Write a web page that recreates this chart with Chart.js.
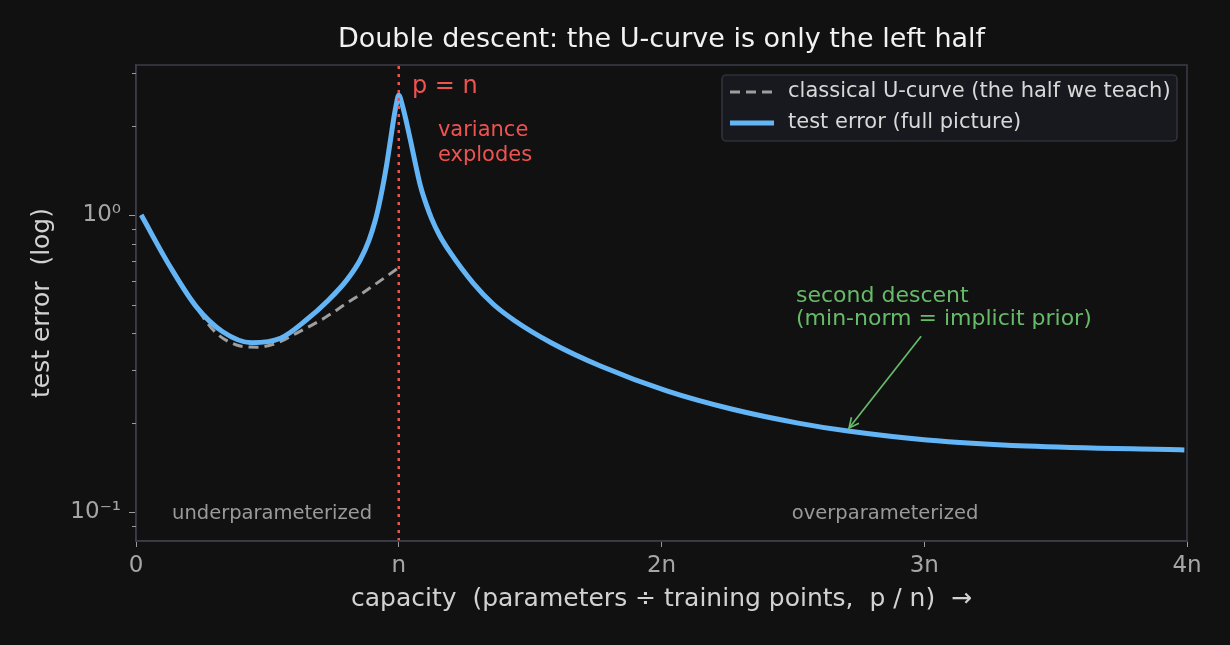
<!DOCTYPE html>
<html><head><meta charset="utf-8">
<script src="https://cdn.jsdelivr.net/npm/chart.js@4.4.1/dist/chart.umd.min.js"></script>
<style>html,body{margin:0;padding:0;background:#111111;}#wrap{width:1230px;height:645px;}</style>
</head><body><div id="wrap"><canvas id="c" width="1230" height="645"></canvas></div>
<script>
// ---- data ----
const testErrX = [0.02,0.13,0.23,0.33,0.44,0.55,0.65,0.732,0.802,0.853,0.887,0.910,0.925,0.940,0.955,0.968,0.980,0.990,1.0,1.015,1.03,1.045,1.06,1.082,1.105,1.125,1.155,1.195,1.284,1.36,1.44,1.58,1.77,2.02,2.27,2.52,2.71,3.01,3.39,3.99];
const testErrY = [1.00,0.670,0.491,0.405,0.372,0.385,0.445,0.517,0.604,0.706,0.824,0.955,1.084,1.259,1.496,1.778,2.089,2.344,2.53,2.317,2.042,1.778,1.538,1.259,1.084,0.973,0.855,0.750,0.589,0.501,0.442,0.372,0.310,0.256,0.222,0.1995,0.1875,0.175,0.167,0.162];
const uCurveX = [0.02,0.13,0.23,0.30,0.38,0.46,0.54,0.61,0.72,0.80,0.86,1.0];
const uCurveY = [1.00,0.670,0.488,0.405,0.366,0.359,0.372,0.400,0.452,0.504,0.545,0.665];
const xTickLabels = ['0','n','2n','3n','4n'];
const yMajorTicks = [0.1, 1];
const yMajorLabels = ['10\u207B\u00B9','10\u2070'];
const yMinorTicks = [0.09,0.2,0.3,0.4,0.5,0.6,0.7,0.8,0.9,2,3];
const seriesNames = ['classical U-curve (the half we teach)','test error (full picture)'];

const FONT = "'DejaVu Sans', sans-serif";
const BLUE = '#64b5f6', GRAY = '#9e9e9e', RED = '#ef5350', GREEN = '#66bb6a';
const FRAME = '#3c3c4a';

const toPts = (xs, ys) => xs.map((x, i) => ({x, y: ys[i]}));

const decor = {
  id: 'decor',
  beforeDraw(chart) {
    const {ctx} = chart;
    ctx.save();
    ctx.fillStyle = '#111111';
    ctx.fillRect(0, 0, chart.width, chart.height);
    ctx.restore();
  },
  afterDraw(chart) {
    const {ctx, chartArea: a} = chart;
    const xs = chart.scales.x, ys = chart.scales.y;
    const px = v => xs.getPixelForValue(v), py = v => ys.getPixelForValue(v);
    ctx.save();
    // frame
    ctx.strokeStyle = FRAME; ctx.lineWidth = 1.5;
    ctx.strokeRect(a.left, a.top, a.right - a.left, a.bottom - a.top);
    // minor y ticks
    ctx.strokeStyle = '#9a9a9a'; ctx.lineWidth = 1;
    yMinorTicks.forEach(v => {
      const y = Math.round(py(v)) + 0.5;
      ctx.beginPath(); ctx.moveTo(a.left - 4, y); ctx.lineTo(a.left, y); ctx.stroke();
    });
    // title
    ctx.fillStyle = '#f2f2f2';
    ctx.font = `27px ${FONT}`;
    ctx.textAlign = 'center'; ctx.textBaseline = 'middle';
    ctx.fillText('Double descent: the U-curve is only the left half', (a.left + a.right) / 2, 40);
    // annotations
    ctx.textAlign = 'left';
    ctx.fillStyle = RED;
    ctx.font = `24px ${FONT}`;
    ctx.fillText('p = n', px(1.05), py(2.70));
    ctx.font = `21px ${FONT}`;
    ctx.fillText('variance', px(1.149), py(1.92));
    ctx.fillText('explodes', px(1.149), py(1.59));
    ctx.fillStyle = GREEN;
    ctx.font = `22px ${FONT}`;
    ctx.fillText('second descent', px(2.512), py(0.534));
    ctx.fillText('(min-norm = implicit prior)', px(2.512), py(0.446));
    // arrow
    const x0 = px(2.988), y0 = py(0.391), x1 = px(2.714), y1 = py(0.192);
    ctx.strokeStyle = GREEN; ctx.lineWidth = 1.7;
    ctx.beginPath(); ctx.moveTo(x0, y0); ctx.lineTo(x1, y1); ctx.stroke();
    const ang = Math.atan2(y1 - y0, x1 - x0), hl = 11;
    ctx.beginPath();
    ctx.moveTo(x1 - hl * Math.cos(ang - 0.45), y1 - hl * Math.sin(ang - 0.45));
    ctx.lineTo(x1, y1);
    ctx.lineTo(x1 - hl * Math.cos(ang + 0.45), y1 - hl * Math.sin(ang + 0.45));
    ctx.stroke();
    // region labels
    ctx.fillStyle = '#9a9a9a';
    ctx.font = `19.5px ${FONT}`;
    ctx.textAlign = 'center';
    ctx.fillText('underparameterized', px(0.518), py(0.0985));
    ctx.fillText('overparameterized', px(2.851), py(0.0985));
    // legend
    const lx = 722, ly = 75, lw = 455, lh = 66;
    ctx.fillStyle = '#18181f';
    ctx.strokeStyle = '#3c3c4a'; ctx.lineWidth = 1.2;
    ctx.beginPath();
    ctx.roundRect(lx, ly, lw, lh, 4);
    ctx.fill(); ctx.stroke();
    const ds = chart.data.datasets;
    const rows = [ly + 17, ly + 48];
    [0, 1].forEach(i => {
      const d = ds[i];
      ctx.strokeStyle = d.borderColor; ctx.lineWidth = d.borderWidth;
      ctx.setLineDash(d.borderDash || []);
      ctx.beginPath(); ctx.moveTo(lx + 8, rows[i]); ctx.lineTo(lx + 52, rows[i]); ctx.stroke();
      ctx.setLineDash([]);
      ctx.fillStyle = '#d8d8d8';
      ctx.font = `21px ${FONT}`;
      ctx.textAlign = 'left'; ctx.textBaseline = 'middle';
      ctx.fillText(d.label, lx + 66, rows[i]);
    });
    ctx.restore();
  }
};

new Chart(document.getElementById('c'), {
  type: 'line',
  data: {
    datasets: [
      { label: seriesNames[0], data: toPts(uCurveX, uCurveY), borderColor: GRAY, borderWidth: 3,
        borderDash: [10, 6], pointRadius: 0, cubicInterpolationMode: 'monotone', order: 2, fill: false },
      { label: seriesNames[1], data: toPts(testErrX, testErrY), borderColor: BLUE, borderWidth: 5,
        pointRadius: 0, cubicInterpolationMode: 'monotone', order: 1, fill: false, borderCapStyle: 'butt' },
      { label: 'p = n', data: [{x: 1, y: 0.08}, {x: 1, y: 3.2}], borderColor: RED, borderWidth: 2.5,
        borderDash: [3, 5], pointRadius: 0, order: 0, fill: false }
    ]
  },
  options: {
    responsive: false, animation: false, devicePixelRatio: 1,
    layout: { padding: { top: 65, right: 43, left: 0, bottom: 0 } },
    plugins: { legend: { display: false }, tooltip: { enabled: false }, title: { display: false } },
    scales: {
      x: {
        type: 'linear', min: 0, max: 4,
        afterBuildTicks: s => { s.ticks = xTickLabels.map((_, i) => ({value: i})); },
        afterFit: s => { s.height = 104; },
        ticks: { callback: v => xTickLabels[v], color: '#a6a6a6', font: {family: FONT, size: 23}, padding: 5, maxRotation: 0 },
        grid: { drawOnChartArea: false, drawTicks: true, tickLength: 6, color: '#9a9a9a' },
        border: { display: true, color: FRAME, width: 1.5 },
        title: { display: true, text: 'capacity  (parameters \u00F7 training points,  p / n)  \u2192',
                 color: '#d2d2d2', font: {family: FONT, size: 25}, padding: {top: 0, bottom: 31} }
      },
      y: {
        type: 'logarithmic', min: 0.08, max: 3.2,
        afterBuildTicks: s => { s.ticks = yMajorTicks.map(v => ({value: v})); },
        afterFit: s => { s.width = 136; },
        ticks: { callback: v => yMajorLabels[yMajorTicks.indexOf(v)], color: '#a6a6a6', font: {family: FONT, size: 23}, padding: 8, autoSkip: false },
        grid: { drawOnChartArea: false, drawTicks: true, tickLength: 7, color: '#9a9a9a' },
        border: { display: true, color: FRAME, width: 1.5 },
        title: { display: true, text: 'test error  (log)', color: '#d2d2d2', font: {family: FONT, size: 25}, padding: {top: 27, bottom: 0} }
      }
    }
  },
  plugins: [decor]
});
</script>
</body></html>
